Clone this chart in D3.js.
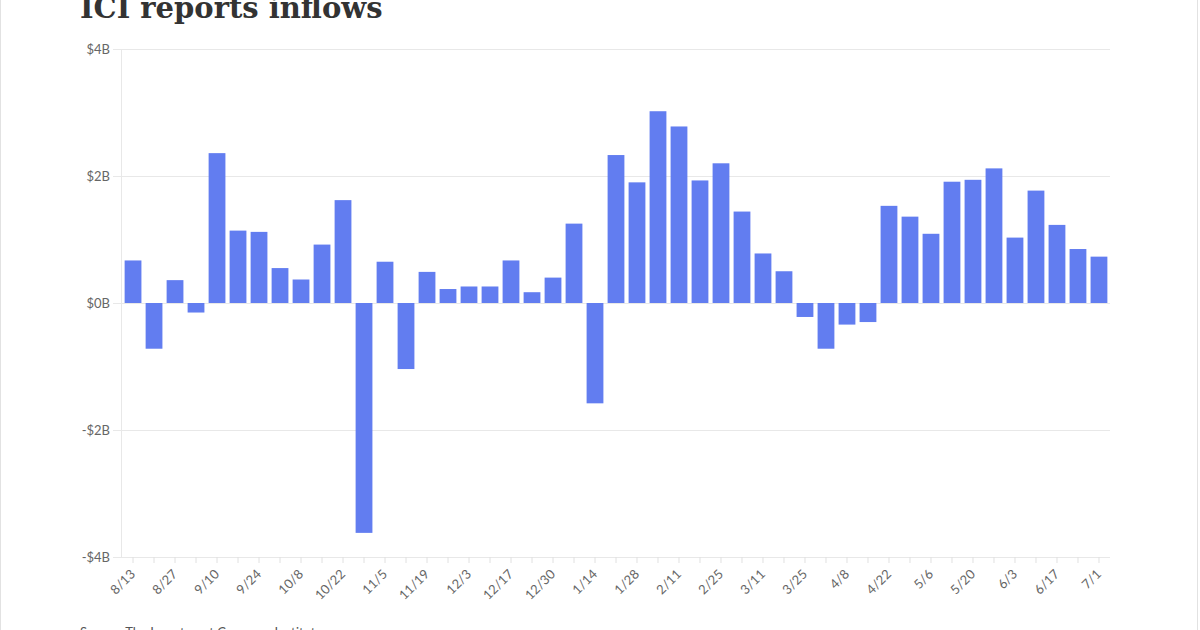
<!DOCTYPE html>
<html>
<head>
<meta charset="utf-8">
<script src="https://cdn.jsdelivr.net/npm/d3@7"></script>
<style>
    body { margin: 0; background: #fff; }
    svg { display: block; }
    .axis text { font-family: Lato, sans-serif; font-size: 13px; fill: #666; }
</style>
</head>
<body>
<script>
let weeks = ["8/13", "8/20", "8/27", "9/3", "9/10", "9/17", "9/24", "10/1", "10/8", "10/15", "10/22", "10/29",
    "11/5", "11/12", "11/19", "11/26", "12/3", "12/10", "12/17", "12/23", "12/30", "1/7", "1/14", "1/21",
    "1/28", "2/4", "2/11", "2/18", "2/25", "3/4", "3/11", "3/18", "3/25", "4/1", "4/8", "4/15",
    "4/22", "4/29", "5/6", "5/13", "5/20", "5/27", "6/3", "6/10", "6/17", "6/24", "7/1"];

// weekly flows, billions of dollars
let flows = [0.67, -0.72, 0.36, -0.15, 2.36, 1.14, 1.12, 0.55, 0.37, 0.92, 1.62, -3.62,
    0.65, -1.04, 0.49, 0.22, 0.26, 0.26, 0.67, 0.17, 0.40, 1.25, -1.58, 2.33,
    1.90, 3.02, 2.78, 1.93, 2.20, 1.44, 0.78, 0.50, -0.22, -0.72, -0.34, -0.30,
    1.53, 1.36, 1.09, 1.91, 1.94, 2.12, 1.03, 1.77, 1.23, 0.85, 0.73];

let yTicks = [-4, -2, 0, 2, 4];

let titleText = "ICI reports inflows";
let sourceText = "Source: The Investment Company Institute";

let width = 1200,
    height = 630,
    plot = {
        left: 122,
        right: 1110,
        top: 49,
        bottom: 557
    },
    gridStart = 113,
    barColor = "#627df0";

let svg = d3.select("body").append("svg")
    .attr("width", width)
    .attr("height", height);

// thin page frame
svg.append("rect")
    .attr("x", 0.5)
    .attr("y", -2)
    .attr("width", width - 3)
    .attr("height", height + 4)
    .attr("fill", "none")
    .attr("stroke", "#e2e2e2");

let xScale = d3.scaleBand()
    .domain(weeks)
    .range([plot.left, plot.right])
    .paddingInner(0.2)
    .paddingOuter(0.125);

let yScale = d3.scaleLinear()
    .domain([-4, 4])
    .range([plot.bottom, plot.top]);

// gridlines + y labels
let yAxis = d3.axisLeft(yScale)
    .tickValues(yTicks)
    .tickSize(-(plot.right - gridStart))
    .tickPadding(3)
    .tickFormat(d => (d < 0 ? "-$" : "$") + Math.abs(d) + "B");

svg.append("g")
    .attr("class", "axis")
    .attr("transform", "translate(" + gridStart + ",0)")
    .call(yAxis)
    .call(g => g.select(".domain").remove())
    .call(g => g.selectAll(".tick line").attr("stroke", "#e8e8e8"));

svg.append("line")
    .attr("x1", plot.left - 0.5)
    .attr("x2", plot.left - 0.5)
    .attr("y1", plot.top)
    .attr("y2", plot.bottom)
    .attr("stroke", "#e8e8e8");

// x axis: a tick for every week, a label every other week
let xAxis = d3.axisBottom(xScale)
    .tickSize(6)
    .tickFormat((d, i) => i % 2 === 0 ? d : "");

svg.append("g")
    .attr("class", "axis")
    .attr("transform", "translate(0," + plot.bottom + ")")
    .call(xAxis)
    .call(g => g.select(".domain").remove())
    .call(g => g.selectAll(".tick line").attr("stroke", "#e0e0e0"))
    .call(g => g.selectAll(".tick text")
        .attr("text-anchor", "end")
        .attr("dy", null)
        .attr("y", 0)
        .attr("transform", "translate(3,18) rotate(-45)"));

svg.append("g")
    .selectAll("rect")
    .data(flows)
    .join("rect")
    .attr("x", (d, i) => xScale(weeks[i]))
    .attr("width", xScale.bandwidth())
    .attr("y", d => yScale(Math.max(0, d)))
    .attr("height", d => Math.abs(yScale(d) - yScale(0)))
    .attr("fill", barColor);

svg.append("text")
    .attr("x", 80)
    .attr("y", 18)
    .style("font-family", "'DejaVu Serif', serif")
    .style("font-weight", "bold")
    .style("font-size", "29px")
    .style("fill", "#333")
    .text(titleText);

svg.append("text")
    .attr("x", 80)
    .attr("y", 637)
    .style("font-family", "Lato, sans-serif")
    .style("font-size", "13px")
    .style("fill", "#555")
    .text(sourceText);
</script>
</body>
</html>
